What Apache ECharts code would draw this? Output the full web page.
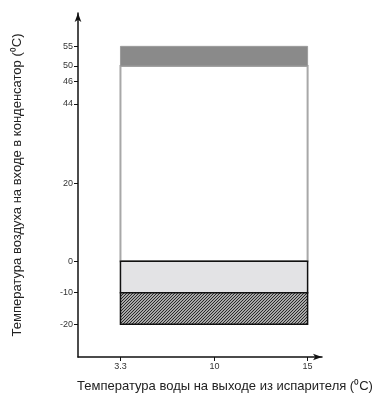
<!DOCTYPE html>
<html><head><meta charset="utf-8">
<script src="https://cdn.jsdelivr.net/npm/echarts@6/dist/echarts.min.js"></script>
<style>html,body{margin:0;padding:0;background:#fff}#c{width:379px;height:400px}</style>
</head><body><div id="c"></div>
<script>
// ---- data ----
const xTickValues = [3.3, 10, 15];
const xTickLabels = ['3.3', '10', '15'];
const yTickValues = [-20, -10, 0, 20, 44, 46, 50, 55];
const yTickLabels = ['-20', '-10', '0', '20', '44', '46', '50', '55'];
const bandNames = ['hatched', 'light', 'white', 'dark'];
const bandLow = [-20, -10, 0, 50];
const bandHigh = [-10, 0, 50, 55];
const bandXFrom = [3.3, 3.3, 3.3, 3.3];
const bandXTo = [15, 15, 15, 15];
const xTitle = 'Температура воды на выходе из испарителя (⁰C)';
const yTitle = 'Температура воздуха на входе в конденсатор (⁰C)';

// ---- non-uniform axis layout (tick positions on a 0..100 axis span) ----
const xTickPos = [17.4, 55.9, 94.1];
const yTickPos = [9.5, 18.7, 27.8, 50.4, 73.6, 80.2, 84.6, 90.3];

function piecewise(v, vals, pos) {
  const n = vals.length;
  let i = 0;
  if (v <= vals[0]) i = 0;
  else if (v >= vals[n - 1]) i = n - 2;
  else { while (i < n - 2 && v > vals[i + 1]) i++; }
  const t = (v - vals[i]) / (vals[i + 1] - vals[i]);
  return pos[i] + t * (pos[i + 1] - pos[i]);
}
const sx = v => piecewise(v, xTickValues, xTickPos);
const sy = v => piecewise(v, yTickValues, yTickPos);
function labelAt(p, pos, labels) {
  for (let i = 0; i < pos.length; i++) if (Math.abs(pos[i] - p) < 0.01) return labels[i];
  return '';
}

// hatch pattern
const pc = document.createElement('canvas');
pc.width = 3; pc.height = 3;
const g = pc.getContext('2d');
g.fillStyle = '#a8a8a8'; g.fillRect(0, 0, 3, 3);
g.fillStyle = '#2a2a2a';
g.fillRect(2, 0, 1, 1); g.fillRect(1, 1, 1, 1); g.fillRect(0, 2, 1, 1);

const styles = {
  hatched: { fill: { image: pc, repeat: 'repeat' }, stroke: '#111', lineWidth: 1.5 },
  light: { fill: '#e3e3e5', stroke: '#111', lineWidth: 1.5 },
  white: { fill: '#ffffff', stroke: '#a8a8a8', lineWidth: 2 },
  dark: { fill: '#8a8a8a', stroke: '#9c9c9c', lineWidth: 1 }
};

const data = bandNames.map((n, i) => [sx(bandXFrom[i]), sx(bandXTo[i]), sy(bandLow[i]), sy(bandHigh[i]), i]);
const order = [2, 3, 1, 0];
const ordered = order.map(i => data[i]);

const font = "'Liberation Sans', Arial, sans-serif";
const chart = echarts.init(document.getElementById('c'), null, { renderer: 'canvas' });
chart.setOption({
  animation: false,
  grid: { left: 78, right: 57, top: 13, bottom: 43, containLabel: false, outerBoundsMode: 'none' },
  xAxis: {
    type: 'value', min: 0, max: 100,
    splitLine: { show: false },
    axisLine: { show: true, lineStyle: { color: '#111', width: 1.5 }, symbol: ['none', 'arrow'], symbolSize: [5, 9] },
    axisTick: { show: true, customValues: xTickPos, length: 4, lineStyle: { color: '#111', width: 1 } },
    axisLabel: { customValues: xTickPos, formatter: v => labelAt(v, xTickPos, xTickLabels), fontSize: 9, color: '#333', fontFamily: font, margin: 5 },
    name: xTitle, nameLocation: 'middle', nameGap: 23,
    nameTextStyle: { fontSize: 13, color: '#222', fontFamily: font, padding: [0, 0, 0, 50] }
  },
  yAxis: {
    type: 'value', min: 0, max: 100,
    splitLine: { show: false },
    axisLine: { show: true, lineStyle: { color: '#111', width: 1.5 }, symbol: ['none', 'arrow'], symbolSize: [5, 9] },
    axisTick: { show: true, customValues: yTickPos, length: 4, lineStyle: { color: '#111', width: 1 } },
    axisLabel: { customValues: yTickPos, formatter: v => labelAt(v, yTickPos, yTickLabels), fontSize: 9, color: '#333', fontFamily: font, margin: 5 },
    name: yTitle, nameLocation: 'middle', nameGap: 54, nameRotate: 90,
    nameTextStyle: { fontSize: 13, color: '#222', fontFamily: font }
  },
  series: [{
    type: 'custom',
    data: ordered,
    encode: { x: [0, 1], y: [2, 3] },
    renderItem: function (params, api) {
      const p0 = api.coord([api.value(0), api.value(3)]);
      const p1 = api.coord([api.value(1), api.value(2)]);
      const s = styles[bandNames[api.value(4)]];
      return {
        type: 'rect',
        shape: { x: p0[0], y: p0[1], width: p1[0] - p0[0], height: p1[1] - p0[1] },
        style: { fill: s.fill, stroke: s.stroke, lineWidth: s.lineWidth }
      };
    }
  }]
});
</script>
</body></html>
